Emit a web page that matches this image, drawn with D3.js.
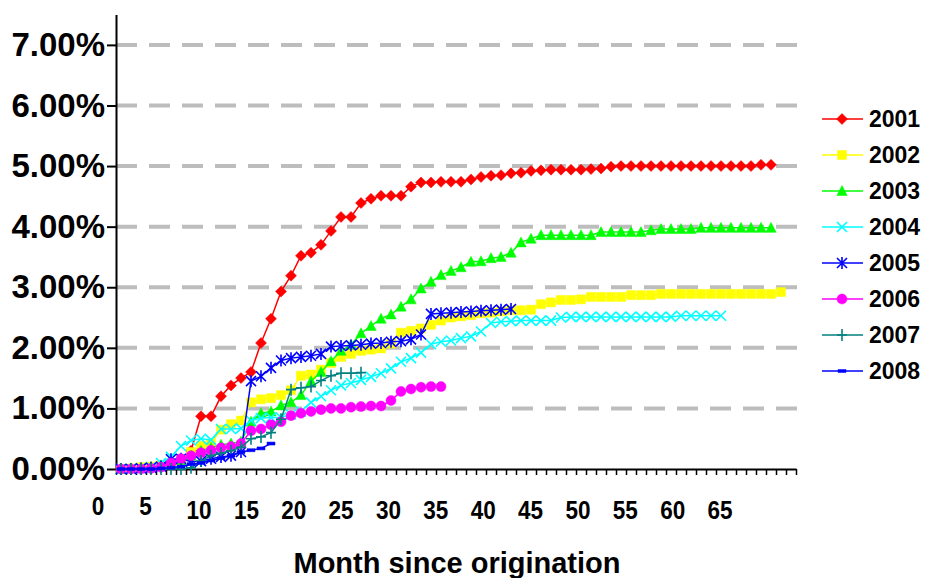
<!DOCTYPE html>
<html>
<head>
<meta charset="utf-8">
<script src="https://cdn.jsdelivr.net/npm/d3@7"></script>
<style>
  body { margin: 0; background: #fff; }
  text { font-family: "Liberation Sans", Arial, sans-serif; font-weight: bold; fill: #000; }
</style>
</head>
<body>
<svg id="chart" width="927" height="578"></svg>
<script>
// month categories on the x axis
const months = d3.range(1, 69);
const xLabels = [0, 5, 10, 15, 20, 25, 30, 35, 40, 45, 50, 55, 60, 65];
const yTicks = [0, 1, 2, 3, 4, 5, 6, 7];

// cumulative rates in %, one value per month starting at month 1
const s2001 = [0, 0, 0.01, 0.02, 0.04, 0.08, 0.15, 0.30, 0.87, 0.87, 1.20, 1.38, 1.50, 1.60, 2.08, 2.48, 2.93, 3.19, 3.52, 3.57,
  3.70, 3.93, 4.16, 4.16, 4.39, 4.46, 4.51, 4.51, 4.51, 4.66, 4.73, 4.73, 4.74, 4.74, 4.74, 4.78, 4.82, 4.84, 4.85, 4.88,
  4.89, 4.92, 4.93, 4.94, 4.94, 4.94, 4.94, 4.95, 4.96, 4.99, 5.00, 5.00, 5.00, 5.00, 5.00, 5.00, 5.00, 5.00, 5.00, 5.00,
  5.00, 5.00, 5.00, 5.00, 5.02, 5.02];
const s2002 = [0, 0.01, 0.03, 0.04, 0.06, 0.09, 0.15, 0.28, 0.38, 0.42, 0.65, 0.74, 0.80, 1.10, 1.15, 1.17, 1.22, 1.30, 1.54, 1.56,
  1.64, 1.75, 1.85, 1.90, 1.95, 1.97, 1.99, 2.07, 2.25, 2.28, 2.32, 2.38, 2.45, 2.50, 2.52, 2.54, 2.57, 2.58, 2.60, 2.62,
  2.62, 2.63, 2.72, 2.75, 2.79, 2.79, 2.80, 2.84, 2.84, 2.84, 2.84, 2.87, 2.87, 2.87, 2.89, 2.89, 2.89, 2.89, 2.89, 2.89,
  2.89, 2.89, 2.89, 2.89, 2.89, 2.89, 2.92];
const s2003 = [0, 0.01, 0.02, 0.03, 0.06, 0.10, 0.15, 0.22, 0.30, 0.35, 0.40, 0.42, 0.45, 0.78, 0.92, 0.95, 1.05, 1.10, 1.22, 1.45,
  1.60, 1.78, 1.95, 2.05, 2.24, 2.36, 2.48, 2.55, 2.68, 2.80, 2.98, 3.09, 3.20, 3.27, 3.33, 3.42, 3.43, 3.48, 3.50, 3.57,
  3.74, 3.80, 3.86, 3.86, 3.86, 3.86, 3.86, 3.86, 3.91, 3.91, 3.91, 3.91, 3.91, 3.94, 3.96, 3.96, 3.96, 3.96, 3.98, 3.98,
  3.98, 3.98, 3.98, 3.98, 3.98, 3.98];
const s2004 = [0, 0, 0.01, 0.03, 0.10, 0.20, 0.38, 0.47, 0.50, 0.48, 0.66, 0.66, 0.67, 0.80, 0.84, 0.85, 0.85, 0.90, 0.95, 1.10,
  1.20, 1.30, 1.38, 1.42, 1.47, 1.52, 1.58, 1.66, 1.77, 1.83, 1.92, 2.06, 2.10, 2.12, 2.16, 2.19, 2.27, 2.41, 2.43, 2.44,
  2.45, 2.45, 2.45, 2.45, 2.50, 2.51, 2.51, 2.51, 2.51, 2.51, 2.51, 2.51, 2.51, 2.51, 2.51, 2.51, 2.53, 2.53, 2.53, 2.53,
  2.53];
const s2005 = [0, 0, 0.01, 0.02, 0.04, 0.16, 0.17, 0.12, 0.13, 0.17, 0.20, 0.22, 0.28, 1.45, 1.53, 1.67, 1.79, 1.83, 1.85, 1.87,
  1.90, 2.02, 2.03, 2.04, 2.05, 2.07, 2.08, 2.10, 2.11, 2.14, 2.22, 2.56, 2.57, 2.58, 2.59, 2.60, 2.61, 2.62, 2.63, 2.64];
const s2006 = [0, 0, 0, 0.01, 0.03, 0.10, 0.17, 0.22, 0.27, 0.31, 0.35, 0.37, 0.42, 0.63, 0.66, 0.73, 0.78, 0.88, 0.92, 0.95,
  0.98, 1.00, 1.00, 1.02, 1.03, 1.04, 1.04, 1.13, 1.28, 1.32, 1.35, 1.36, 1.36];
const s2007 = [0, 0, 0, 0, 0, 0, 0, 0.02, 0.13, 0.22, 0.26, 0.30, 0.36, 0.50, 0.53, 0.60, 0.82, 1.31, 1.34, 1.36,
  1.46, 1.54, 1.58, 1.58, 1.59];
const s2008 = [0, 0, 0, 0, 0.01, 0.02, 0.04, 0.08, 0.10, 0.14, 0.18, 0.22, 0.28, 0.31, 0.34, 0.42];

const seriesNames = ['2001', '2002', '2003', '2004', '2005', '2006', '2007', '2008'];
const seriesData = [s2001, s2002, s2003, s2004, s2005, s2006, s2007, s2008];
const seriesColors = ['#ff0000', '#ffff00', '#00ff00', '#00ffff', '#0000ff', '#ff00ff', '#008080', '#0000ff'];
const seriesMarks = ['diamond', 'square', 'triangle', 'x', 'asterisk', 'circle', 'plus', 'dash'];

const svg = d3.select('#chart');

const x = d3.scaleLinear().domain([0.5, 68.5]).range([116, 796]);
const y = d3.scaleLinear().domain([0, 7.5]).range([469, 14.6]);
// the month labels in the original sit on their own spacing
const xLab = d3.scaleLinear().domain([0, 65]).range([91.8, 707.5]);

// gridlines
svg.append('g')
    .selectAll('line')
    .data(yTicks.filter(d => d > 0))
    .enter().append('line')
    .attr('x1', x(0.5)).attr('x2', x(68.5) + 1)
    .attr('y1', d => y(d)).attr('y2', d => y(d))
    .attr('stroke', '#bdbdbd')
    .attr('stroke-width', 4)
    .attr('stroke-dasharray', '21,12');

// y axis
const yAxis = svg.append('g')
    .attr('transform', `translate(${x(0.5)},0)`)
    .call(d3.axisLeft(y).tickValues(yTicks).tickSize(9).tickSizeOuter(0).tickPadding(2)
        .tickFormat(d => d.toFixed(2) + '%'));
yAxis.select('.domain').attr('stroke', '#000').attr('stroke-width', 2);
yAxis.selectAll('.tick line').attr('stroke', '#000').attr('stroke-width', 2);
yAxis.selectAll('text').style('font-size', '33px').style('font-family', '"Liberation Sans", Arial, sans-serif')
    .style('font-weight', 'bold').attr('fill', '#000');

// x axis (ticks between months)
const xAxis = svg.append('g')
    .attr('transform', `translate(0,${y(0)})`)
    .call(d3.axisBottom(x).tickValues(d3.range(0.5, 69, 1)).tickSize(6).tickSizeOuter(0).tickFormat(''));
xAxis.select('.domain').attr('stroke', '#000').attr('stroke-width', 2);
xAxis.selectAll('.tick line').attr('stroke', '#000').attr('stroke-width', 1.5);

// narrow bold month labels
svg.append('g')
    .selectAll('text')
    .data(xLabels)
    .enter().append('text')
    .attr('transform', d => `translate(${xLab(d)},${d < 10 ? 515 : 519}) scale(0.9,1)`)
    .attr('text-anchor', 'start')
    .style('font-size', '25px')
    .text(d => d);

svg.append('text')
    .attr('x', 457)
    .attr('y', 573)
    .attr('text-anchor', 'middle')
    .style('font-size', '29px')
    .text('Month since origination');

// marker shapes
function markerPath(kind) {
    switch (kind) {
        case 'diamond': return 'M0,-5.5L5.5,0L0,5.5L-5.5,0Z';
        case 'square': return 'M-4.5,-4.5H4.5V4.5H-4.5Z';
        case 'triangle': return 'M0,-5.5L5.2,4.5H-5.2Z';
        case 'circle': return 'M5,0A5,5 0 1,1 -5,0A5,5 0 1,1 5,0Z';
        case 'x': return 'M-5,-5L5,5M-5,5L5,-5';
        case 'asterisk': return 'M-5,-5L5,5M-5,5L5,-5M0,-6V6';
        case 'plus': return 'M-5,0H5M0,-6V6';
        case 'dash': return 'M-4,-1.5H4V1.5H-4Z';
    }
}
const filled = k => ['diamond', 'square', 'triangle', 'circle', 'dash'].includes(k);

const line = d3.line()
    .x((d, i) => x(months[i]))
    .y(d => y(d));

seriesData.forEach((vals, si) => {
    const g = svg.append('g');
    const col = seriesColors[si];
    const mk = seriesMarks[si];
    g.append('path')
        .attr('d', line(vals))
        .attr('fill', 'none')
        .attr('stroke', col)
        .attr('stroke-width', 1.5);
    g.selectAll('path.mk')
        .data(vals)
        .enter().append('path')
        .attr('class', 'mk')
        .attr('transform', (d, i) => `translate(${x(months[i])},${y(d)})`)
        .attr('d', markerPath(mk))
        .attr('fill', filled(mk) ? col : 'none')
        .attr('stroke', col)
        .attr('stroke-width', filled(mk) ? 0.5 : 1.6);
});

// legend
const leg = svg.append('g');
seriesNames.forEach((name, i) => {
    const cy = 119 + i * 36;
    const col = seriesColors[i];
    const mk = seriesMarks[i];
    leg.append('line')
        .attr('x1', 822).attr('x2', 863)
        .attr('y1', cy).attr('y2', cy)
        .attr('stroke', col).attr('stroke-width', 1.5);
    leg.append('path')
        .attr('transform', `translate(842,${cy})`)
        .attr('d', markerPath(mk))
        .attr('fill', filled(mk) ? col : 'none')
        .attr('stroke', col)
        .attr('stroke-width', filled(mk) ? 0.5 : 1.6);
    leg.append('text')
        .attr('x', 869)
        .attr('y', cy)
        .attr('dy', '0.35em')
        .style('font-size', '23px')
        .text(name);
});
</script>
</body>
</html>
